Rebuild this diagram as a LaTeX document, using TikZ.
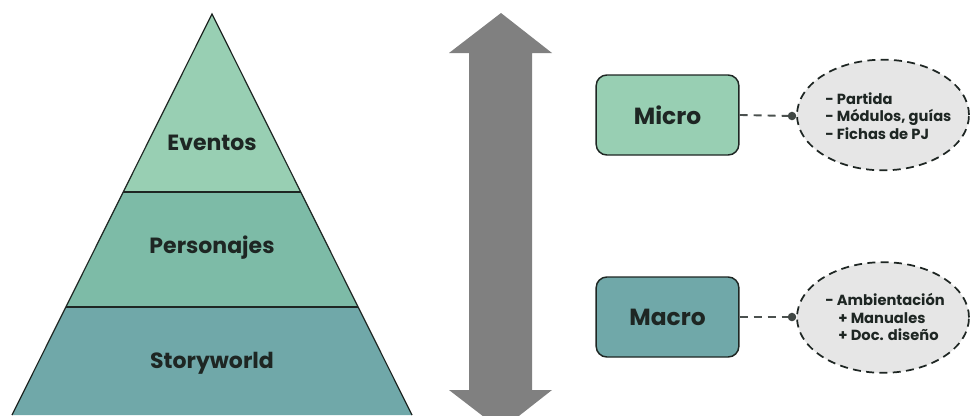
\documentclass[tikz,border=0pt]{standalone}
\usepackage{fontspec}
\setmainfont{Poppins}
\usetikzlibrary{shapes.geometric}
\definecolor{verdeA}{HTML}{98CFB3}
\definecolor{verdeB}{HTML}{7DBBA7}
\definecolor{verdeC}{HTML}{70A8A9}
\definecolor{linea}{HTML}{1E2623}
\definecolor{flecha}{HTML}{808080}
\definecolor{nubegris}{HTML}{E6E6E6}
\begin{document}
\begin{tikzpicture}[x=0.75pt,y=-0.75pt,
	capa/.style={draw=linea,line width=0.9pt},
	rotulo/.style={font=\fontsize{16.5}{19}\selectfont\bfseries,text=linea},
	caja/.style={draw=linea,line width=1.1pt,rounded corners=8pt,minimum width=107pt,minimum height=60pt,font=\fontsize{17.5}{21}\selectfont\bfseries,text=linea},
	nube/.style={ellipse,draw=linea,dash pattern=on 6pt off 4pt,fill=nubegris,line width=1.3pt,minimum width=129pt,minimum height=83pt,inner sep=0pt},
	lista/.style={align=left,inner sep=0pt,font=\fontsize{11}{13.3}\selectfont\bfseries,text=linea},
	enlace/.style={draw=linea!80,dash pattern=on 6pt off 4.5pt,line width=1.4pt}]
	\useasboundingbox (0,0) rectangle (970,415);
	\clip (0,0) rectangle (970,415);
	% Piramide de tres capas
	\fill[verdeC] (12,415) -- (66,307) -- (358,307) -- (412,415) -- cycle;
	\fill[verdeB] (66,307) -- (123,192) -- (301,192) -- (358,307) -- cycle;
	\fill[verdeA] (123,192) -- (212,14) -- (301,192) -- cycle;
	\draw[capa] (12,415) -- (212,14) -- (412,415);
	\draw[capa,line width=1.2pt] (123,192) -- (301,192);
	\draw[capa,line width=1.2pt] (66,307) -- (358,307);
	\node[rotulo] (eventos) at (212,143) {Eventos};
	\node[rotulo] (personajes) at (212,248) {Personajes};
	\node[rotulo] (storyworld) at (212,363) {Storyworld};
	% Flecha doble
	\fill[flecha] (501,13) -- (552,53) -- (532,53) -- (532,390) -- (552,390) -- (501,430)
		-- (449,390) -- (469,390) -- (469,53) -- (449,53) -- cycle;
	% Cajas y nubes
	\node[caja,fill=verdeA] (micro) at (667.5,115) {Micro};
	\node[caja,fill=verdeC] (macro) at (667.5,317) {Macro};
	\node[nube] (nubemicro) at (883,115) {};
	\node[nube] (nubemacro) at (883,317.5) {};
	\node[lista,anchor=west] (listamicro) at (825,116) {- Partida\\- Módulos, guías\\- Fichas de PJ};
	\node[lista,anchor=west] (listamacro) at (825,317) {- Ambientación\\\hspace*{0.9em}+ Manuales\\\hspace*{0.9em}+ Doc. diseño};
	\coordinate (puntomicro) at (792,116);
	\coordinate (puntomacro) at (792,317);
	\draw[enlace] (micro.east) -- (puntomicro);
	\draw[enlace] (macro.east) -- (puntomacro);
	\fill[linea!85] (puntomicro) circle (3.2pt);
	\fill[linea!85] (puntomacro) circle (3.2pt);
\end{tikzpicture}
\end{document}
